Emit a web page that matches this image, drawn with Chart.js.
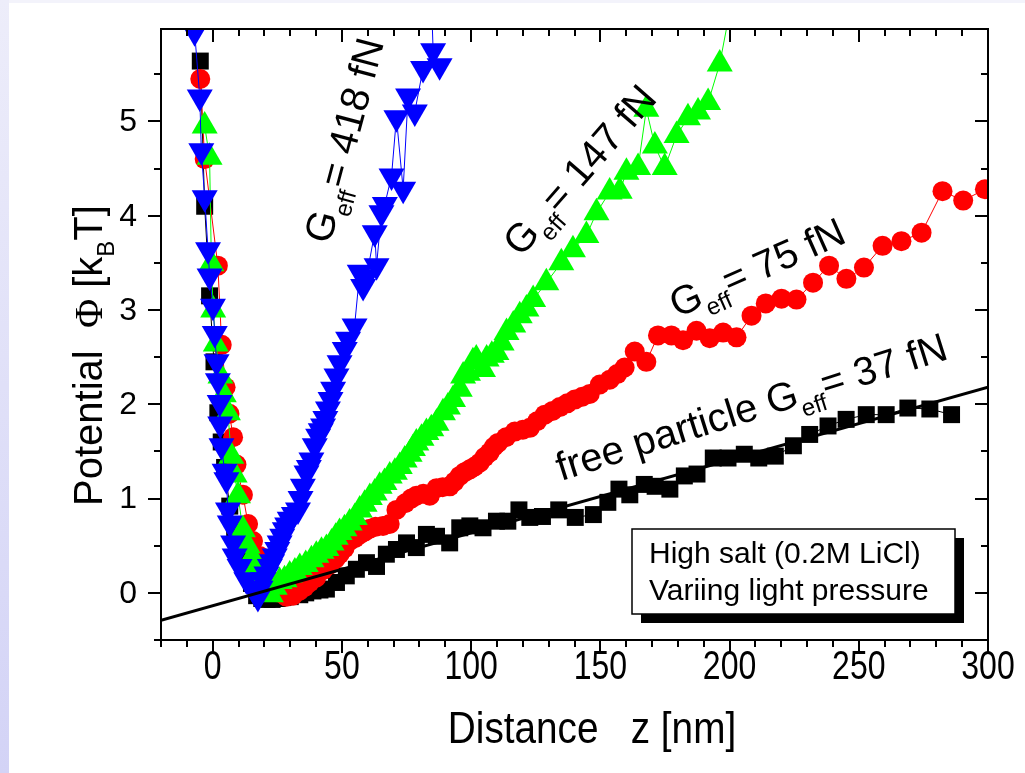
<!DOCTYPE html>
<html>
<head>
<meta charset="utf-8">
<script src="https://cdn.jsdelivr.net/npm/chart.js@4.4.0/dist/chart.umd.min.js"></script>
<style>
  html, body { margin: 0; padding: 0; background: #fff; }
  #wrap { position: relative; width: 1025px; height: 773px; overflow: hidden; }
  #band { position: absolute; left: 0; top: 0; width: 1025px; height: 3px; background: #f3f3fb; }
  #strip { position: absolute; left: 0; top: 0; width: 9px; height: 773px; background: linear-gradient(#ededfa, #d3d3f6); }
  canvas { position: absolute; left: 0; top: 0; }
</style>
</head>
<body>
<div id="wrap">
  <div id="band"></div>
  <div id="strip"></div>
  <canvas id="potChart" width="1025" height="773"></canvas>
</div>
<script>
// free particle, G_eff = 37 fN (black squares)
const blackX = [-4.8, -3.1, -1.2, 0.5, 2, 3.3, 4.6, 6.6, 8.5, 11, 13, 15, 17, 19, 21, 23, 25, 27.2, 30, 33.7,
  36, 38.8, 41.5, 44, 47.9, 51.7, 55.6, 59.5, 63.4, 67.2, 71.1, 75, 78.8, 82.7, 86.6, 91.7, 95.6, 99.5, 104.6, 109.8,
  114.2, 118.5, 122.7, 127.6, 133.9, 140.3, 147.3, 152.9, 157.2, 161.4, 167, 171.2, 176.9, 182.5, 187.4, 193.7, 199.4, 205.7, 211.3, 217.7,
  224.7, 231, 238.1, 245.1, 252.9, 260.6, 269, 277.5, 285.9];
const blackY = [5.64, 4.10, 3.15, 2.45, 1.91, 1.6, 1.33, 0.92, 0.68, 0.44, 0.25, 0.1, -0.03, -0.06, -0.07, -0.07, -0.06, -0.05, -0.04, -0.02,
  0.0, 0.02, 0.03, 0.04, 0.11, 0.18, 0.25, 0.32, 0.28, 0.41, 0.46, 0.53, 0.48, 0.62, 0.60, 0.53, 0.69, 0.71, 0.69, 0.76,
  0.76, 0.88, 0.80, 0.81, 0.88, 0.80, 0.83, 0.96, 1.10, 1.04, 1.15, 1.13, 1.10, 1.24, 1.26, 1.43, 1.43, 1.47, 1.43, 1.45,
  1.56, 1.68, 1.77, 1.84, 1.89, 1.89, 1.96, 1.95, 1.89];

// G_eff = 75 fN (red circles)
const redX = [-4.8, -3.1, 2, 3.5, 5, 6.5, 7.9, 9.2, 11.7, 13.7,
  15.6, 18.2, 20.1, 23.3, 26, 28.5, 31, 33.5, 35.5, 37.5,
  40, 42.7, 45.3, 47.5, 49.1, 51, 53, 55, 56.9, 58.8,
  60.8, 63, 65.9, 68.5, 71.1, 74.5, 76.8, 78.8, 81.5, 84,
  86.6, 89, 91.7, 93.6, 95.6, 97.5, 99.5, 101.4, 103.3, 105.2,
  107.2, 108.8, 110.4, 113.5, 116.9, 120, 122.7, 125.5, 128.5, 131.5,
  134.3, 137.2, 140.1, 143, 145.9, 149.8, 153.6, 156.5, 159.4, 163.3,
  167.8, 172.3, 177.5, 182, 187.2, 192.3, 197.5, 202.7, 208.5, 214,
  220.1, 225.9, 232.3, 238.5, 245.2, 252, 259.2, 266.5, 274.3, 282.4,
  290.4, 298.8];
const redY = [5.45, 4.6, 3.47, 2.63, 2.18, 1.9, 1.65, 1.36, 1.04, 0.73,
  0.55, 0.39, 0.27, 0.12, 0.0, -0.04, -0.03, 0.02, 0.06, 0.11,
  0.16, 0.24, 0.30, 0.36, 0.41, 0.47, 0.55, 0.58, 0.62, 0.65,
  0.68, 0.70, 0.71, 0.73, 0.88, 0.95, 1.0, 1.03, 1.05, 1.03,
  1.11, 1.12, 1.13, 1.18, 1.24, 1.28, 1.31, 1.34, 1.38, 1.44,
  1.49, 1.55, 1.59, 1.65, 1.71, 1.73, 1.75, 1.82, 1.89, 1.93,
  1.97, 2.01, 2.05, 2.08, 2.11, 2.21, 2.26, 2.32, 2.39, 2.56,
  2.45, 2.73, 2.73, 2.68, 2.78, 2.70, 2.76, 2.71, 2.94, 3.07,
  3.12, 3.11, 3.29, 3.47, 3.33, 3.45, 3.68, 3.73, 3.82, 4.26,
  4.16, 4.28];

// G_eff = 147 fN (green triangles)
const greenX = [-3.1, -1.2, -0.5, 0.2, 1.2, 3, 4.3, 5.9, 7.2, 8.5,
  9.8, 11.7, 13.5, 15.2, 16.9, 18.5, 20.5, 22.5, 24, 25.9,
  27.8, 29.8, 31.8, 33.7, 36, 38.2, 40.1, 42.1, 44, 46,
  47.6, 49.1, 51, 53, 55, 56.9, 58.8, 60.8, 62.7, 64.6,
  66.5, 68.5, 70.5, 72.4, 74.3, 76.2, 77.5, 78.8, 80.8, 82.7,
  84.6, 86.6, 89.1, 91, 93, 95.6, 96.9, 98.8, 100.7, 102,
  104.6, 106, 108, 109.8, 111.8, 113.7, 116.3, 118.8, 121.4, 124,
  129.1, 134.9, 139.4, 144.6, 148.5, 153.6, 157.5, 160.1, 164.6, 167.8,
  171.1, 174.9, 179.5, 183.9, 187.8, 191.7, 196.2, 201];
const greenY = [4.95, 4.62, 3.49, 3.0, 2.64, 2.3, 2.1, 1.91, 1.45, 1.25,
  1.03, 0.67, 0.5, 0.38, 0.28, 0.1, 0.0, -0.02, 0.06, 0.12,
  0.14, 0.19, 0.22, 0.27, 0.3, 0.35, 0.40, 0.44, 0.47, 0.53,
  0.59, 0.64, 0.68, 0.74, 0.80, 0.88, 0.94, 1.01, 1.06, 1.13,
  1.17, 1.24, 1.28, 1.34, 1.41, 1.47, 1.53, 1.59, 1.64, 1.70,
  1.74, 1.80, 1.91, 1.97, 2.05, 2.16, 2.30, 2.33, 2.45, 2.48,
  2.37, 2.48, 2.52, 2.55, 2.65, 2.76, 2.84, 2.94, 3.01, 3.11,
  3.29, 3.50, 3.64, 3.79, 4.03, 4.25, 4.26, 4.46, 4.51, 5.13,
  4.74, 4.51, 4.85, 5.04, 5.10, 5.20, 5.61, 6.3];

// G_eff = 418 fN (blue triangles)
const blueX = [-7, -5, -4.4, -3.1, -1.8, -1.2, 0.1, 0.8, 1.5, 2,
  2.7, 2.9, 3.4, 4.6, 5.3, 5.9, 6.6, 7.9, 8.5, 10.4,
  13, 15.6, 17.5, 18.5, 19.5, 20.8, 22.1, 23, 24, 25,
  25.9, 26.9, 27.9, 28.8, 29.8, 31.4, 33, 34, 34.9, 36.3,
  37.2, 38.2, 39.5, 40.8, 41.8, 42.7, 43.6, 44.6, 45.6, 46.6,
  47.9, 49.1, 51.1, 52.4, 54.9, 56.9, 58.2, 59.5, 62.7, 63.4,
  65.3, 66.6, 69.2, 71.1, 73.7, 75.6, 78.2, 81.4, 87.8, 85.3,
  84.5];
const blueY = [5.95, 5.26, 4.69, 4.19, 3.64, 3.36, 3.04, 2.75, 2.45, 2.25,
  2.02, 1.79, 1.56, 1.29, 1.20, 0.88, 0.74, 0.53, 0.39, 0.28,
  0.14, 0.04, -0.05, 0.05, 0.14, 0.2, 0.28, 0.33, 0.39, 0.46,
  0.53, 0.6, 0.67, 0.72, 0.78, 0.83, 0.88, 1.0, 1.13, 1.27,
  1.33, 1.41, 1.56, 1.66, 1.72, 1.77, 1.85, 1.95, 2.05, 2.16,
  2.30, 2.44, 2.58, 2.69, 2.83, 3.40, 3.25, 3.35, 3.82, 3.47,
  4.03, 4.12, 4.42, 5.04, 4.28, 5.27, 5.10, 5.56, 5.59, 5.75,
  6.4];

// linear fit of the free particle data
const fitX = [-20, 300];
const fitY = [-0.29, 2.18];

const xTickValues = [0, 50, 100, 150, 200, 250, 300];
const xTickLabels = ['0', '50', '100', '150', '200', '250', '300'];
const yTickValues = [0, 1, 2, 3, 4, 5];
const yTickLabels = ['0', '1', '2', '3', '4', '5'];

const SANS = '"Liberation Sans", Arial, sans-serif';
const SERIF = '"Liberation Serif", "Times New Roman", serif';

function toPoints(xs, ys) {
    return xs.map((x, i) => ({ x: x, y: ys[i] }));
}

// text made of runs; sub runs are smaller and lowered
function drawRich(ctx, x, y, angle, parts, size) {
    ctx.save();
    ctx.translate(x, y);
    ctx.rotate(angle * Math.PI / 180);
    ctx.textAlign = 'left';
    ctx.textBaseline = 'alphabetic';
    let cx = 0;
    parts.forEach(p => {
        const fs = p.sub ? size * 0.6 : size;
        ctx.font = fs + 'px ' + (p.serif ? SERIF : SANS);
        ctx.fillText(p.t, cx, p.sub ? size * 0.3 : 0);
        cx += ctx.measureText(p.t).width;
    });
    ctx.restore();
}

const framePlugin = {
    id: 'frame',
    afterDraw(chart) {
        const { ctx, chartArea: a, scales: { x, y } } = chart;
        ctx.save();
        ctx.strokeStyle = '#000';
        ctx.fillStyle = '#000';
        ctx.lineWidth = 2;
        ctx.strokeRect(a.left, a.top, a.right - a.left, a.bottom - a.top);

        // x ticks: out at the bottom, in at the top
        ctx.beginPath();
        for (let v = -20; v <= 300; v += 10) {
            const px = Math.round(x.getPixelForValue(v));
            const len = v % 50 === 0 ? 13 : 7;
            ctx.moveTo(px, a.bottom); ctx.lineTo(px, a.bottom + len);
            ctx.moveTo(px, a.top); ctx.lineTo(px, a.top + len);
        }
        // y ticks: out at the left, in at the right
        for (let v = -0.5; v <= 5.5; v += 0.5) {
            const py = Math.round(y.getPixelForValue(v));
            const len = Number.isInteger(v) ? 13 : 7;
            ctx.moveTo(a.left, py); ctx.lineTo(a.left - len, py);
            ctx.moveTo(a.right, py); ctx.lineTo(a.right - len, py);
        }
        ctx.stroke();

        // tick labels
        ctx.textAlign = 'right';
        ctx.textBaseline = 'middle';
        ctx.font = '32px ' + SANS;
        yTickValues.forEach((v, i) => ctx.fillText(yTickLabels[i], a.left - 24, y.getPixelForValue(v) + 1));

        ctx.textAlign = 'center';
        ctx.textBaseline = 'alphabetic';
        ctx.font = '40px ' + SANS;
        xTickValues.forEach((v, i) => {
            ctx.save();
            ctx.translate(x.getPixelForValue(v), a.bottom + 39);
            ctx.scale(0.8, 1);
            ctx.fillText(xTickLabels[i], 0, 0);
            ctx.restore();
        });

        // axis titles
        ctx.save();
        ctx.translate(592, 743);
        ctx.scale(0.88, 1);
        ctx.font = '44px ' + SANS;
        ctx.fillText('Distance   z [nm]', 0, 0);
        ctx.restore();

        drawRich(ctx, 102, 506, -90, [
            { t: 'Potential  ' }, { t: '\u03A6', serif: true }, { t: ' [k' }, { t: 'B', sub: true }, { t: 'T]' }
        ], 40);

        // curve annotations
        const g = (rest) => [{ t: 'G' }, { t: 'eff', sub: true }, { t: rest }];
        drawRich(ctx, 330, 245, -75, g('= 418 fN'), 40);
        drawRich(ctx, 521, 258, -49, g('= 147 fN'), 40);
        drawRich(ctx, 677, 318, -24, g('= 75 fN'), 40);
        drawRich(ctx, 561, 481, -17.5, [{ t: 'free particle G' }, { t: 'eff', sub: true }, { t: '= 37 fN' }], 40);

        // note box with shadow
        ctx.fillRect(641, 538, 323, 85);
        ctx.fillStyle = '#fff';
        ctx.fillRect(632, 529, 323, 85);
        ctx.lineWidth = 1.5;
        ctx.strokeRect(632, 529, 323, 85);
        ctx.fillStyle = '#000';
        ctx.textAlign = 'left';
        ctx.font = '30px ' + SANS;
        ctx.fillText('High salt (0.2M LiCl)', 649, 563);
        ctx.fillText('Variing light pressure', 649, 600);
        ctx.restore();
    }
};

function series(label, xs, ys, color, style, radius, rotation, order) {
    return {
        label: label,
        data: toPoints(xs, ys),
        showLine: true,
        borderColor: color,
        backgroundColor: color,
        borderWidth: 1,
        pointStyle: style,
        pointRadius: radius,
        pointRotation: rotation,
        pointBorderWidth: 0,
        order: order
    };
}

const ctx = document.getElementById('potChart').getContext('2d');
new Chart(ctx, {
    type: 'scatter',
    data: {
        datasets: [
            { label: 'fit', data: toPoints(fitX, fitY), showLine: true, borderColor: '#000', borderWidth: 3, pointRadius: 0, order: 0 },
            series('418 fN', blueX, blueY, '#0000ff', 'triangle', 15, 180, 1),
            series('147 fN', greenX, greenY, '#00ff00', 'triangle', 15, 0, 2),
            series('75 fN', redX, redY, '#ff0000', 'circle', 10, 0, 3),
            series('37 fN', blackX, blackY, '#000000', 'rect', 12, 0, 4)
        ]
    },
    options: {
        responsive: false,
        animation: false,
        devicePixelRatio: 1,
        layout: { padding: { left: 161, right: 37, top: 29, bottom: 133 } },
        scales: {
            x: { type: 'linear', min: -20, max: 300, display: false },
            y: { type: 'linear', min: -0.5, max: 5.98, display: false }
        },
        plugins: { legend: { display: false }, tooltip: { enabled: false } }
    },
    plugins: [framePlugin]
});
</script>
</body>
</html>
